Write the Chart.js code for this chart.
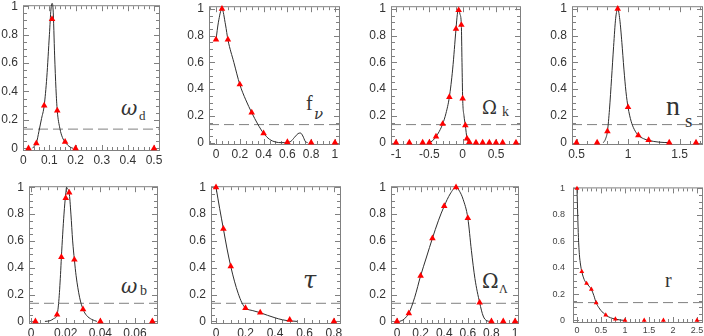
<!DOCTYPE html>
<html>
<head>
<meta charset="utf-8">
<script src="https://cdn.jsdelivr.net/npm/chart.js@4"></script>
<style>
html, body { margin: 0; padding: 0; background: #fff; }
#page { position: relative; width: 704px; height: 336px; overflow: hidden; }
canvas { position: absolute; }
.sym { position: absolute; line-height: 1; color: #333; white-space: nowrap; font-family: "Liberation Serif", serif; }
.gr { font-family: "DejaVu Serif", serif; font-style: italic; }
.up { font-family: "DejaVu Serif", serif; }
</style>
</head>
<body>
<div id="page">
  <!-- parameter labels -->
  <div class="sym gr" style="left:121px;top:98px;font-size:20px">ω</div>
  <div class="sym" style="left:139px;top:109px;font-size:13px">d</div>

  <div class="sym" style="left:306px;top:93px;font-size:20px">f</div>
  <div class="sym gr" style="left:314px;top:107px;font-size:15px">ν</div>

  <div class="sym up" style="left:482px;top:99px;font-size:18px">Ω</div>
  <div class="sym" style="left:502px;top:105px;font-size:14px">k</div>

  <div class="sym" style="left:666px;top:92px;font-size:28px">n</div>
  <div class="sym" style="left:685px;top:111px;font-size:19px">s</div>

  <div class="sym gr" style="left:121px;top:276px;font-size:20px">ω</div>
  <div class="sym" style="left:140px;top:284px;font-size:14px">b</div>

  <div class="sym gr" style="left:303px;top:268px;font-size:24px">τ</div>

  <div class="sym up" style="left:482px;top:271px;font-size:20px">Ω</div>
  <div class="sym" style="left:499px;top:283px;font-size:12px">Λ</div>

  <div class="sym" style="left:665px;top:270px;font-size:20px">r</div>
</div>
<script>
// likelihood level of the dashed line
const cutLevel = 0.135;

// omega_d
const wdCurveX = [0.035, 0.045, 0.05, 0.06, 0.07, 0.08, 0.09, 0.1, 0.106, 0.11, 0.114, 0.12, 0.125, 0.13, 0.14, 0.15, 0.16, 0.17, 0.18, 0.19];
const wdCurveY = [0, 0.02, 0.035, 0.12, 0.21, 0.30, 0.50, 0.80, 0.98, 1.02, 0.98, 0.65, 0.42, 0.265, 0.14, 0.075, 0.045, 0.022, 0.008, 0];
const wdPtsX = [0.02, 0.05, 0.08, 0.11, 0.13, 0.16, 0.2, 0.5];
const wdPtsY = [0, 0.035, 0.30, 0.91, 0.265, 0.045, 0, 0];

// f_nu
const fnCurveX = [0, 0.02, 0.05, 0.08, 0.1, 0.15, 0.2, 0.25, 0.3, 0.35, 0.4, 0.45, 0.5, 0.55, 0.6, 0.63, 0.66, 0.69, 0.71, 0.73, 0.75, 0.77];
const fnCurveY = [0.77, 0.9, 1.0, 0.88, 0.77, 0.6, 0.435, 0.32, 0.225, 0.14, 0.07, 0.025, 0.005, 0, 0.003, 0.01, 0.04, 0.068, 0.072, 0.05, 0.01, 0];
const fnPtsX = [0, 0.05, 0.1, 0.2, 0.3, 0.4, 0.6, 0.8, 1.0];
const fnPtsY = [0.77, 1.0, 0.77, 0.435, 0.225, 0.07, 0.005, 0, 0];

// Omega_k
const okCurveX = [-0.5, -0.45, -0.4, -0.35, -0.3, -0.25, -0.2, -0.15, -0.1, -0.08, -0.06, -0.04, -0.02, -0.01, 0, 0.02, 0.04, 0.065, 0.08, 0.1];
const okCurveY = [0, 0.015, 0.045, 0.085, 0.14, 0.22, 0.34, 0.55, 0.85, 0.96, 1.0, 0.96, 0.88, 0.6, 0.33, 0.2, 0.13, 0.03, 0.01, 0];
const okPtsX = [-1, -0.8, -0.6, -0.5, -0.4, -0.3, -0.2, -0.1, -0.06, -0.02, 0, 0.04, 0.065, 0.1, 0.2, 0.3, 0.4, 0.5, 0.6, 0.8];
const okPtsY = [0, 0, 0, 0, 0.045, 0.14, 0.34, 0.85, 0.99, 0.88, 0.33, 0.13, 0.03, 0.005, 0, 0, 0, 0, 0, 0];

// n_s
const nsCurveX = [0.76, 0.78, 0.8, 0.82, 0.84, 0.86, 0.88, 0.9, 0.92, 0.94, 0.96, 0.98, 1.0, 1.03, 1.06, 1.1, 1.15, 1.2, 1.3, 1.4];
const nsCurveY = [0, 0.025, 0.085, 0.25, 0.48, 0.72, 0.93, 1.0, 0.92, 0.75, 0.55, 0.38, 0.265, 0.16, 0.1, 0.055, 0.03, 0.017, 0.004, 0];
const nsPtsX = [0.5, 0.7, 0.8, 0.9, 1.0, 1.1, 1.2, 1.4, 1.66];
const nsPtsY = [0, 0, 0.085, 1.0, 0.265, 0.055, 0.02, 0, 0];

// omega_b
const wbCurveX = [0.008, 0.011, 0.013, 0.015, 0.016, 0.017, 0.0175, 0.019, 0.02, 0.0205, 0.021, 0.022, 0.023, 0.024, 0.025, 0.026, 0.028, 0.03, 0.032, 0.035, 0.038];
const wbCurveY = [0, 0.005, 0.02, 0.05, 0.15, 0.35, 0.48, 0.8, 0.95, 1.0, 0.99, 0.96, 0.8, 0.6, 0.46, 0.34, 0.18, 0.09, 0.045, 0.015, 0];
const wbPtsX = [0.0025, 0.015, 0.0175, 0.02, 0.022, 0.025, 0.03, 0.04, 0.07];
const wbPtsY = [0, 0.05, 0.48, 0.92, 0.96, 0.46, 0.09, 0, 0];

// tau
const tauCurveX = [0, 0.025, 0.05, 0.075, 0.1, 0.125, 0.15, 0.175, 0.2, 0.25, 0.3, 0.35, 0.4, 0.45, 0.5, 0.55];
const tauCurveY = [1.0, 0.84, 0.69, 0.54, 0.41, 0.3, 0.21, 0.14, 0.1, 0.08, 0.065, 0.045, 0.027, 0.012, 0.004, 0];
const tauPtsX = [0, 0.05, 0.1, 0.2, 0.3, 0.5, 0.8];
const tauPtsY = [1.0, 0.69, 0.41, 0.1, 0.065, 0.012, 0];

// Omega_Lambda
const olCurveX = [0.02, 0.05, 0.08, 0.1, 0.15, 0.2, 0.25, 0.3, 0.35, 0.4, 0.45, 0.5, 0.53, 0.56, 0.6, 0.63, 0.66, 0.7, 0.73, 0.76, 0.79];
const olCurveY = [0, 0.01, 0.035, 0.06, 0.18, 0.34, 0.48, 0.62, 0.75, 0.86, 0.95, 1.0, 0.97, 0.91, 0.77, 0.53, 0.32, 0.14, 0.04, 0.005, 0];
const olPtsX = [0, 0.1, 0.2, 0.3, 0.4, 0.5, 0.6, 0.7, 0.8, 0.9, 1.0];
const olPtsY = [0, 0.06, 0.34, 0.62, 0.86, 1.0, 0.77, 0.14, 0, 0, 0];

// r
const rCurveX = [0, 0.015, 0.03, 0.05, 0.075, 0.1, 0.15, 0.2, 0.25, 0.3, 0.35, 0.4, 0.45, 0.5, 0.6, 0.7, 0.8, 0.9, 1.0];
const rCurveY = [1.0, 0.8, 0.63, 0.5, 0.42, 0.37, 0.31, 0.28, 0.26, 0.235, 0.19, 0.133, 0.1, 0.075, 0.04, 0.02, 0.01, 0.003, 0];
const rPtsX = [0, 0.1, 0.2, 0.3, 0.4, 0.6, 0.8, 1.0, 1.4, 1.8, 2.5];
const rPtsY = [1.0, 0.37, 0.28, 0.235, 0.133, 0.04, 0.01, 0, 0, 0, 0];

// one entry per panel: frame box on the page, axis ranges, tick steps
const panels = [
  { frame: [23, 3, 159, 150], xr: [-0.001, 0.519], yr: [-0.012, 1.007], step: 0.1, minor: 0.02, curve: [wdCurveX, wdCurveY], pts: [wdPtsX, wdPtsY] },
  { frame: [209, 4, 339, 144], xr: [-0.059, 1.034], yr: [-0.01, 1.02], step: 0.2, minor: 0.05, curve: [fnCurveX, fnCurveY], pts: [fnPtsX, fnPtsY] },
  { frame: [391, 4, 520, 144], xr: [-1.075, 0.86], yr: [-0.01, 1.02], step: 0.5, minor: 0.1, curve: [okCurveX, okCurveY], pts: [okPtsX, okPtsY] },
  { frame: [572, 4, 702, 144], xr: [0.456, 1.718], yr: [-0.01, 1.02], step: 0.5, minor: 0.1, curve: [nsCurveX, nsCurveY], pts: [nsPtsX, nsPtsY] },
  { frame: [29, 184, 157, 323], xr: [-0.0012, 0.0727], yr: [-0.012, 1.008], step: 0.02, minor: 0.005, curve: [wbCurveX, wbCurveY], pts: [wbPtsX, wbPtsY] },
  { frame: [211, 184, 340, 323], xr: [-0.034, 0.841], yr: [-0.012, 1.008], step: 0.2, minor: 0.05, curve: [tauCurveX, tauCurveY], pts: [tauPtsX, tauPtsY] },
  { frame: [391, 184, 518, 323], xr: [-0.051, 1.025], yr: [-0.012, 1.008], step: 0.2, minor: 0.05, curve: [olCurveX, olCurveY], pts: [olPtsX, olPtsY] },
  { frame: [573, 184, 702, 322], xr: [-0.083, 2.604], yr: [-0.012, 1.008], step: 0.5, minor: 0.1, curve: [rCurveX, rCurveY], pts: [rPtsX, rPtsY], small: true }
];

const Y_W = 40, PAD_T = 10, PAD_R = 16, X_H = 22;

function toXY(xs, ys) {
  return xs.map((x, i) => ({ x: x, y: ys[i] }));
}

// box round the plot with inward ticks on all four sides
const framePlugin = {
  id: 'frame',
  beforeDatasetsDraw(chart, args, opts) {
    const { ctx, chartArea: a, scales } = chart;
    ctx.save();
    ctx.strokeStyle = '#808080';
    ctx.lineWidth = 1;
    ctx.strokeRect(a.left + 0.5, a.top + 0.5, a.right - a.left, a.bottom - a.top);
    const marks = (scale, minor) => {
      const major = scale.ticks.map(t => t.value);
      const out = [];
      for (let k = Math.ceil(scale.min / minor - 1e-6); k * minor <= scale.max + 1e-9; k++) {
        const v = k * minor;
        const isMajor = major.some(m => Math.abs(m - v) < minor * 0.01);
        out.push([Math.round(scale.getPixelForValue(v)) + 0.5, isMajor ? 5 : 3]);
      }
      return out;
    };
    ctx.beginPath();
    marks(scales.x, opts.xMinor).forEach(([px, len]) => {
      ctx.moveTo(px, a.bottom); ctx.lineTo(px, a.bottom - len);
      ctx.moveTo(px, a.top + 1); ctx.lineTo(px, a.top + 1 + len);
    });
    marks(scales.y, opts.yMinor).forEach(([py, len]) => {
      ctx.moveTo(a.left + 1, py); ctx.lineTo(a.left + 1 + len, py);
      ctx.moveTo(a.right, py); ctx.lineTo(a.right - len, py);
    });
    ctx.stroke();
    ctx.restore();
  }
};

const fmt = v => String(+(+v).toFixed(4));

panels.forEach(p => {
  const [L, T, R, B] = p.frame;
  const w = Y_W + (R - L) + PAD_R;
  const h = PAD_T + (B - T) + X_H;
  const canvas = document.createElement('canvas');
  canvas.width = w;
  canvas.height = h;
  canvas.style.left = (L - Y_W) + 'px';
  canvas.style.top = (T - PAD_T) + 'px';
  canvas.style.width = w + 'px';
  canvas.style.height = h + 'px';
  document.getElementById('page').appendChild(canvas);

  const tickFont = { family: 'Liberation Sans', size: p.small ? 9 : 12 };
  const tickColor = p.small ? '#444' : '#333';

  new Chart(canvas, {
    type: 'scatter',
    data: {
      datasets: [
        {
          data: toXY(p.pts[0], p.pts[1]),
          pointStyle: 'triangle',
          pointRadius: p.small ? 2.8 : 3.8,
          backgroundColor: '#ff0000',
          borderColor: '#ff0000',
          borderWidth: 0,
          showLine: false,
          clip: false
        },
        {
          data: toXY(p.curve[0], p.curve[1]),
          showLine: true,
          pointRadius: 0,
          borderColor: '#2e2e2e',
          borderWidth: 1,
          cubicInterpolationMode: 'monotone',
          clip: false
        },
        {
          data: toXY(p.xr, [cutLevel, cutLevel]),
          showLine: true,
          pointRadius: 0,
          borderColor: '#808080',
          borderWidth: 1,
          borderDash: [10, 5]
        }
      ]
    },
    options: {
      responsive: false,
      animation: false,
      devicePixelRatio: 1,
      layout: { padding: { left: 0, top: PAD_T, right: PAD_R, bottom: 0 } },
      plugins: {
        legend: { display: false },
        tooltip: { enabled: false },
        frame: { xMinor: p.minor, yMinor: 0.05 }
      },
      scales: {
        x: {
          type: 'linear',
          min: p.xr[0],
          max: p.xr[1],
          grid: { display: false, drawTicks: false },
          border: { display: false },
          ticks: { stepSize: p.step, includeBounds: false, autoSkip: false, maxRotation: 0, padding: 3, font: tickFont, color: tickColor, callback: fmt },
          afterFit: s => { s.height = X_H; }
        },
        y: {
          type: 'linear',
          min: p.yr[0],
          max: p.yr[1],
          grid: { display: false, drawTicks: false },
          border: { display: false },
          ticks: { stepSize: 0.2, includeBounds: false, autoSkip: false, padding: p.small ? 8 : 5, font: tickFont, color: tickColor, callback: fmt },
          afterFit: s => { s.width = Y_W; }
        }
      }
    },
    plugins: [framePlugin]
  });
});
</script>
</body>
</html>
